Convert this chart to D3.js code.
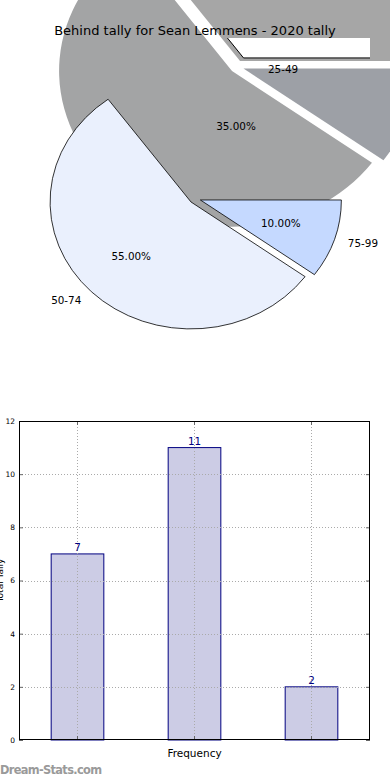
<!DOCTYPE html>
<html>
<head>
<meta charset="utf-8">
<script src="https://cdn.jsdelivr.net/npm/d3@7"></script>
<style>
    body { margin: 0; background: #fff; }
    svg { display: block; font-family: "DejaVu Sans", sans-serif; }
</style>
</head>
<body>
<div id="chart"></div>
<script>

// pie data
var pie_labels = ["25-49", "50-74", "75-99"];
var pie_values = [35, 55, 10];
var pie_colors = ["#ffffff", "#eaf0fd", "#c5d9ff"];
var pie_explode = [0.04, 0.04, 0.04];

// bar data
var bar_categories = ["25-49", "50-74", "75-99"];
var bar_values = [7, 11, 2];
var y_ticks = [0, 2, 4, 6, 8, 10, 12];

var title = "Behind tally for Sean Lemmens - 2020 tally";

var svg = d3.select("#chart").append("svg")
    .attr("width", 390)
    .attr("height", 780);

// clip for the pie axes
svg.append("defs").append("clipPath")
    .attr("id", "pie_clip")
    .append("rect")
    .attr("x", 19).attr("y", 38)
    .attr("width", 351).attr("height", 320);

draw_pie();
draw_bars();

function shadow_color(c) {
    var rgb = d3.rgb(c);
    return d3.rgb(127.5 + rgb.r * 0.15, 127.5 + rgb.g * 0.15, 127.5 + rgb.b * 0.15);
}

function draw_pie() {
    // ellipse radii (axes aspect not equal)
    var cx = 195, cy = 198.4, rx = 141, ry = 127;
    // the shadows came out scaled and shifted
    var scx = 236.9, scy = 66.6, s = 1.227;

    // matplotlib start angle 0, counterclockwise
    var pie = d3.pie()
        .sort(null)
        .startAngle(Math.PI / 2)
        .endAngle(Math.PI / 2 - 2 * Math.PI);
    var arcs = pie(pie_values);
    arcs.forEach(function(d, i) {
        var m = (d.startAngle + d.endAngle) / 2;
        d.mid = m;
        d.ox = pie_explode[i] * Math.sin(m);
        d.oy = -pie_explode[i] * Math.cos(m);
    });

    var arc = d3.arc().innerRadius(0).outerRadius(1);

    // shadows first, not clipped
    var shadows = svg.append("g")
        .attr("transform", "translate(" + scx + "," + scy + ") scale(" + (rx * s) + "," + (ry * s) + ")");
    shadows.selectAll("path")
        .data(arcs)
        .enter().append("path")
        .attr("transform", function(d) { return "translate(" + d.ox + "," + d.oy + ")"; })
        .attr("d", arc)
        .attr("fill", function(d, i) { return shadow_color(pie_colors[i]); });

    var clipped = svg.append("g").attr("clip-path", "url(#pie_clip)");

    // first wedge landed in the shadow space
    var ghost = clipped.append("g")
        .attr("transform", "translate(" + (scx + 3.5) + "," + (scy - 3.1) + ") scale(" + (rx * s) + "," + (ry * s) + ")");
    ghost.selectAll("path")
        .data(arcs.slice(0, 1))
        .enter().append("path")
        .attr("transform", function(d) { return "translate(" + d.ox + "," + d.oy + ")"; })
        .attr("d", arc)
        .attr("fill", pie_colors[0])
        .attr("stroke", "#000")
        .attr("stroke-width", 1)
        .attr("vector-effect", "non-scaling-stroke");

    var wedges = clipped.append("g")
        .attr("transform", "translate(" + cx + "," + cy + ") scale(" + rx + "," + ry + ")");
    wedges.selectAll("path")
        .data(arcs.slice(1))
        .enter().append("path")
        .attr("transform", function(d) { return "translate(" + d.ox + "," + d.oy + ")"; })
        .attr("d", arc)
        .attr("fill", function(d) { return pie_colors[d.index]; })
        .attr("stroke", "#000")
        .attr("stroke-width", 0.8)
        .attr("vector-effect", "non-scaling-stroke");

    // labels at 1.1 r, percents at 0.6 r
    var labels = svg.append("g").style("font-size", "10.4px").attr("fill", "#000");
    labels.selectAll(".lbl")
        .data(arcs)
        .enter().append("text")
        .attr("class", "lbl")
        .attr("x", function(d) { return cx + rx * (1.1 * Math.sin(d.mid) + d.ox); })
        .attr("y", function(d) { return cy + ry * (-1.1 * Math.cos(d.mid) + d.oy); })
        .attr("dy", ".35em")
        .attr("text-anchor", function(d) { return Math.sin(d.mid) > 0 ? "start" : "end"; })
        .text(function(d, i) { return pie_labels[i]; });

    var total = d3.sum(pie_values);
    labels.selectAll(".pct")
        .data(arcs)
        .enter().append("text")
        .attr("class", "pct")
        .attr("x", function(d) { return cx + rx * (0.6 * Math.sin(d.mid) + d.ox); })
        .attr("y", function(d) { return cy + ry * (-0.6 * Math.cos(d.mid) + d.oy); })
        .attr("dy", ".35em")
        .attr("text-anchor", "middle")
        .text(function(d) { return (d.value / total * 100).toFixed(2) + "%"; });

    svg.append("text")
        .attr("x", 195)
        .attr("y", 35)
        .attr("text-anchor", "middle")
        .style("font-size", "13px")
        .text(title);
}

function draw_bars() {
    var left = 19, right = 370, top = 421, bottom = 740;

    var x = d3.scaleBand()
        .domain(bar_categories)
        .range([left, right])
        .paddingInner(0.55)
        .paddingOuter(0.275);
    var y = d3.scaleLinear()
        .domain([0, 12])
        .range([bottom, top]);

    var g = svg.append("g");

    // bars
    g.selectAll(".bar")
        .data(bar_values)
        .enter().append("rect")
        .attr("class", "bar")
        .attr("x", function(d, i) { return x(bar_categories[i]); })
        .attr("y", function(d) { return y(d); })
        .attr("width", x.bandwidth())
        .attr("height", function(d) { return bottom - y(d); })
        .attr("fill", "#cccce5")
        .attr("stroke", "#000080")
        .attr("stroke-width", 1);

    // dotted grid on top of the bars
    var grid = g.append("g")
        .attr("stroke", "#aaaaaa")
        .attr("stroke-width", 1)
        .attr("stroke-dasharray", "1,2");
    grid.selectAll(".hgrid")
        .data(y_ticks.slice(1, -1))
        .enter().append("line")
        .attr("x1", left).attr("x2", right)
        .attr("y1", function(d) { return Math.round(y(d)) + 0.5; })
        .attr("y2", function(d) { return Math.round(y(d)) + 0.5; });
    grid.selectAll(".vgrid")
        .data(bar_categories)
        .enter().append("line")
        .attr("x1", function(d) { return Math.round(x(d) + x.bandwidth() / 2) + 0.5; })
        .attr("x2", function(d) { return Math.round(x(d) + x.bandwidth() / 2) + 0.5; })
        .attr("y1", top).attr("y2", bottom);

    // y axis ticks and labels
    var yAxis = d3.axisLeft(y).tickValues(y_ticks).tickSizeInner(-4).tickSizeOuter(0).tickPadding(4);
    var ya = g.append("g")
        .attr("transform", "translate(" + left + ",0)")
        .call(yAxis);
    ya.select(".domain").remove();
    ya.selectAll(".tick line").attr("stroke", "#666");
    ya.selectAll("text").style("font-size", "7.5px").attr("fill", "#000").attr("font-family", "DejaVu Sans");

    var yAxisR = d3.axisRight(y).tickValues(y_ticks).tickSizeInner(-4).tickSizeOuter(0).tickFormat("");
    var yr = g.append("g")
        .attr("transform", "translate(" + right + ",0)")
        .call(yAxisR);
    yr.select(".domain").remove();
    yr.selectAll(".tick line").attr("stroke", "#666");

    // x ticks, no labels
    var xAxis = d3.axisBottom(x).tickSizeInner(-4).tickSizeOuter(0).tickFormat("");
    var xa = g.append("g")
        .attr("transform", "translate(0," + bottom + ")")
        .call(xAxis);
    xa.select(".domain").remove();
    xa.selectAll(".tick line").attr("stroke", "#666");
    var xAxisT = d3.axisTop(x).tickSizeInner(-4).tickSizeOuter(0).tickFormat("");
    var xt = g.append("g")
        .attr("transform", "translate(0," + top + ")")
        .call(xAxisT);
    xt.select(".domain").remove();
    xt.selectAll(".tick line").attr("stroke", "#666");

    // frame
    g.append("rect")
        .attr("x", left + 0.5).attr("y", top + 0.5)
        .attr("width", right - left - 1).attr("height", bottom - top - 1)
        .attr("fill", "none")
        .attr("stroke", "#000")
        .attr("stroke-width", 1);

    // value labels
    g.selectAll(".val")
        .data(bar_values)
        .enter().append("text")
        .attr("class", "val")
        .attr("x", function(d, i) { return x(bar_categories[i]) + x.bandwidth() / 2; })
        .attr("y", function(d) { return y(d) - 3; })
        .attr("text-anchor", "middle")
        .attr("fill", "#000080")
        .style("font-size", "10.4px")
        .text(function(d) { return d; });

    g.append("text")
        .attr("x", (left + right) / 2)
        .attr("y", 757)
        .attr("text-anchor", "middle")
        .style("font-size", "10.5px")
        .text("Frequency");

    // y label, cut off at the edge like the original
    g.append("text")
        .attr("transform", "translate(3," + ((top + bottom) / 2) + ") rotate(-90)")
        .attr("text-anchor", "middle")
        .style("font-size", "9px")
        .text("Total Tally");

    svg.append("text")
        .attr("x", 0)
        .attr("y", 774)
        .attr("fill", "#9a9a9a")
        .style("font-size", "11.4px")
        .style("font-weight", "bold")
        .attr("textLength", 102)
        .text("Dream-Stats.com");
}
</script>
</body>
</html>
